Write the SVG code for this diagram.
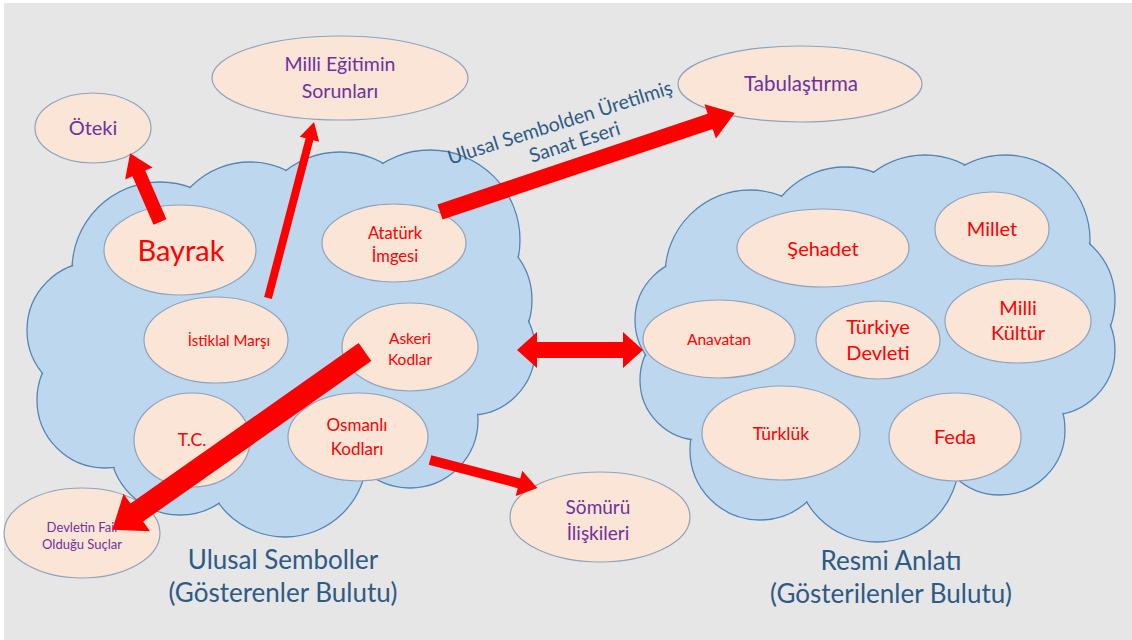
<svg xmlns="http://www.w3.org/2000/svg" width="1132" height="640" viewBox="0 0 1132 640">
<style>
.bg{fill:#e6e6e6}
.cs{fill:#bdd7ee;stroke:#5585b5;stroke-width:1.3}
.cf{fill:#bdd7ee;stroke:none}
.el{fill:#fbe5d6;stroke:#8ea3bd;stroke-width:1.2}
.t{font-family:Lato,"Liberation Sans",sans-serif;text-anchor:middle}
.r{fill:#ff0000}
.p{fill:#7030a0}
.b{fill:#2e5a87}
.ar{fill:#ff0000;stroke:none}
</style>
<rect width="1132" height="640" fill="#ffffff"/>
<rect class="bg" x="4" y="3" width="1128" height="637"/>

<g id="cloud-left">
<g class="cs">
<circle cx="160" cy="270" r="88"/><circle cx="250" cy="245" r="83"/><circle cx="340" cy="240" r="88"/><circle cx="430" cy="240" r="90"/><circle cx="460" cy="300" r="72"/><circle cx="470" cy="350" r="65"/><circle cx="410" cy="420" r="68"/><circle cx="285" cy="455" r="82"/><circle cx="180" cy="445" r="70"/><circle cx="105" cy="400" r="68"/><circle cx="95" cy="330" r="68"/>
</g>
<g class="cf">
<circle cx="160" cy="270" r="87"/><circle cx="250" cy="245" r="82"/><circle cx="340" cy="240" r="87"/><circle cx="430" cy="240" r="89"/><circle cx="460" cy="300" r="71"/><circle cx="470" cy="350" r="64"/><circle cx="410" cy="420" r="67"/><circle cx="285" cy="455" r="81"/><circle cx="180" cy="445" r="69"/><circle cx="105" cy="400" r="67"/><circle cx="95" cy="330" r="67"/>
<ellipse cx="280" cy="340" rx="190" ry="140"/>
</g>
</g>

<g id="cloud-right">
<g class="cs">
<circle cx="750" cy="275" r="85"/><circle cx="845" cy="250" r="83"/><circle cx="925" cy="240" r="85"/><circle cx="1005" cy="240" r="85"/><circle cx="1040" cy="300" r="75"/><circle cx="1050" cy="350" r="65"/><circle cx="1000" cy="430" r="65"/><circle cx="877" cy="460" r="82"/><circle cx="760" cy="450" r="70"/><circle cx="700" cy="380" r="60"/><circle cx="697" cy="320" r="62"/>
</g>
<g class="cf">
<circle cx="750" cy="275" r="84"/><circle cx="845" cy="250" r="82"/><circle cx="925" cy="240" r="84"/><circle cx="1005" cy="240" r="84"/><circle cx="1040" cy="300" r="74"/><circle cx="1050" cy="350" r="64"/><circle cx="1000" cy="430" r="64"/><circle cx="877" cy="460" r="81"/><circle cx="760" cy="450" r="69"/><circle cx="700" cy="380" r="59"/><circle cx="697" cy="320" r="61"/>
<ellipse cx="880" cy="350" rx="170" ry="130"/>
</g>
</g>

<g id="oteki"><ellipse class="el" cx="93" cy="128" rx="58" ry="35"/><text class="t p" x="93" y="135" font-size="20">Öteki</text></g>
<g id="milli-egitim"><ellipse class="el" cx="340" cy="78" rx="128" ry="42"/><text class="t p" x="340" y="71" font-size="19.5">Milli Eğitimin</text><text class="t p" x="340" y="98" font-size="19.5">Sorunları</text></g>
<g id="tabulastirma"><ellipse class="el" cx="800" cy="84" rx="122" ry="38"/><text class="t p" x="801" y="91" font-size="20.5">Tabulaştırma</text></g>
<g id="bayrak"><ellipse class="el" cx="180" cy="250" rx="76" ry="45"/><text class="t r" x="181" y="261" font-size="29">Bayrak</text></g>
<g id="ataturk"><ellipse class="el" cx="394" cy="243" rx="72" ry="39"/><text class="t r" x="395" y="239" font-size="16.5">Atatürk</text><text class="t r" x="395" y="262" font-size="16.5">İmgesi</text></g>
<g id="istiklal"><ellipse class="el" cx="216" cy="340" rx="72" ry="43"/><text class="t r" x="229" y="346" font-size="15">İstiklal Marşı</text></g>
<g id="askeri"><ellipse class="el" cx="410" cy="347" rx="68" ry="44"/><text class="t r" x="410" y="344" font-size="15.5">Askeri</text><text class="t r" x="410" y="365" font-size="15.5">Kodlar</text></g>
<g id="tc"><ellipse class="el" cx="192" cy="440" rx="58" ry="47"/><text class="t r" x="192" y="446" font-size="17.5">T.C.</text></g>
<g id="osmanli"><ellipse class="el" cx="358" cy="437" rx="70" ry="44"/><text class="t r" x="357" y="431" font-size="17">Osmanlı</text><text class="t r" x="357" y="455" font-size="17">Kodları</text></g>
<g id="devletin"><ellipse class="el" cx="82" cy="533" rx="78" ry="45"/><text class="t p" x="82" y="532" font-size="13">Devletin Fail</text><text class="t p" x="82" y="549" font-size="13">Olduğu Suçlar</text></g>
<g id="somuru"><ellipse class="el" cx="600" cy="517" rx="90" ry="45"/><text class="t p" x="598" y="514" font-size="19">Sömürü</text><text class="t p" x="598" y="540" font-size="19">İlişkileri</text></g>
<g id="sehadet"><ellipse class="el" cx="823" cy="248" rx="86" ry="39"/><text class="t r" x="823" y="256" font-size="20">Şehadet</text></g>
<g id="millet"><ellipse class="el" cx="992" cy="229" rx="57" ry="37"/><text class="t r" x="992" y="236" font-size="20">Millet</text></g>
<g id="anavatan"><ellipse class="el" cx="719" cy="339" rx="76" ry="39"/><text class="t r" x="719" y="345" font-size="15.5">Anavatan</text></g>
<g id="turkiye"><ellipse class="el" cx="878" cy="340" rx="62" ry="39"/><text class="t r" x="878" y="334" font-size="20">Türkiye</text><text class="t r" x="878" y="360" font-size="20">Devleti</text></g>
<g id="milli-kultur"><ellipse class="el" cx="1018" cy="321" rx="73" ry="42"/><text class="t r" x="1018" y="315" font-size="20">Milli</text><text class="t r" x="1018" y="340" font-size="20">Kültür</text></g>
<g id="turkluk"><ellipse class="el" cx="781" cy="433" rx="79" ry="47"/><text class="t r" x="781" y="440" font-size="17.5">Türklük</text></g>
<g id="feda"><ellipse class="el" cx="955" cy="437" rx="66" ry="44"/><text class="t r" x="955" y="444" font-size="20">Feda</text></g>

<g id="connectors">
<path class="ar" transform="translate(160,222) rotate(-113.5)" d="M0,-7 L53,-7 L53,-15 L75,0 L53,15 L53,7 L0,7 Z"/>
<path class="ar" transform="translate(268,298) rotate(-75.35)" d="M0,-4 L164,-4 L164,-10 L182,0 L164,10 L164,4 L0,4 Z"/>
<path class="ar" transform="translate(440,212) rotate(-18.55)" d="M0,-8 L285,-8 L285,-18 L311,0 L285,18 L285,8 L0,8 Z"/>
<path class="ar" transform="translate(365,352) rotate(144.87)" d="M0,-11 L279,-11 L279,-23 L309,0 L279,23 L279,11 L0,11 Z"/>
<path class="ar" transform="translate(430,460) rotate(14.67)" d="M0,-5 L92,-5 L92,-13 L111,0 L92,13 L92,5 L0,5 Z"/>
<path class="ar" d="M517,350 L537,332 L537,342 L623,342 L623,332 L643,350 L623,368 L623,358 L537,358 L537,368 Z"/>
</g>

<g id="edge-label" transform="translate(562,129) rotate(-17.7)">
<text class="t b" x="0" y="0" font-size="19.5">Ulusal Sembolden Üretilmiş</text>
<text class="t b" x="8" y="23" font-size="19.5">Sanat Eseri</text>
</g>

<g id="labels">
<text class="t b" x="283" y="569" font-size="26">Ulusal Semboller</text>
<text class="t b" x="283" y="602" font-size="26">(Gösterenler Bulutu)</text>
<text class="t b" x="891" y="570" font-size="26">Resmi Anlatı</text>
<text class="t b" x="891" y="603" font-size="26">(Gösterilenler Bulutu)</text>
</g>
</svg>
